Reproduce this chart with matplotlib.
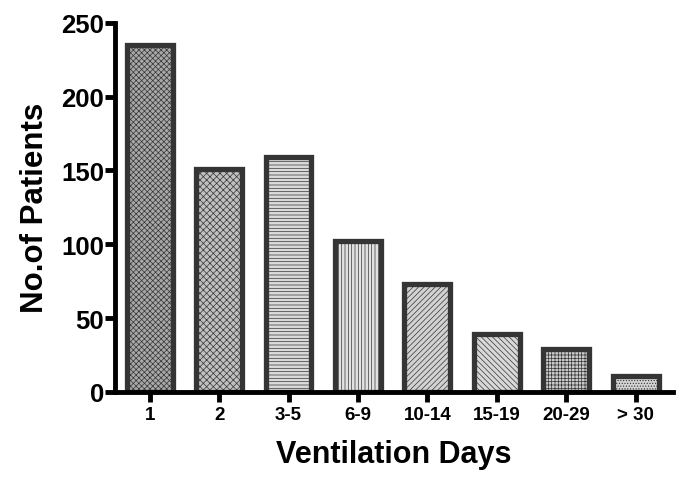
import matplotlib
matplotlib.use("Agg")
import matplotlib.pyplot as plt

categories = ["1", "2", "3-5", "6-9", "10-14", "15-19", "20-29", "> 30"]
patients = [235, 151, 159, 102, 73, 39, 29, 11]
hatches = ["xxxxxx", "xxxxx", "-----", "|||||", "//////", "\\\\\\\\\\\\", "+++++", "......"]
fills = ["#a8a8a8", "#c0c0c0", "#dadada", "#e2e2e2", "#d2d2d2", "#d8d8d8", "#cacaca", "#d2d2d2"]

plt.rcParams['font.family'] = ['Liberation Sans', 'DejaVu Sans']
plt.rcParams['hatch.linewidth'] = 0.5
plt.rcParams['hatch.color'] = '#666666'

fig = plt.figure(figsize=(6.85, 4.85), dpi=100)
ax = fig.add_axes([0.168, 0.19, 0.8146, 0.761])

x = list(range(len(categories)))
for xi, v, h, fc in zip(x, patients, hatches, fills):
    ax.bar(xi, v, width=0.66, facecolor=fc, edgecolor='#353535', linewidth=3.8, hatch=h, zorder=2)

ax.set_xlim(-0.5, 7.54)
ax.set_ylim(0, 250)
ax.set_yticks([0, 50, 100, 150, 200, 250])
ax.set_xticks(x)
ax.set_xticklabels(categories)

for s in ['top', 'right']:
    ax.spines[s].set_visible(False)
for s in ['left', 'bottom']:
    ax.spines[s].set_linewidth(3.5)
    ax.spines[s].set_color('black')
    ax.spines[s].set_capstyle('projecting')

ax.tick_params(axis='y', direction='out', length=7, width=3.5, labelsize=18.5, pad=1)
ax.tick_params(axis='x', direction='out', length=7, width=3.5, labelsize=13.5, pad=3)
for lab in ax.get_yticklabels() + ax.get_xticklabels():
    lab.set_fontweight('bold')

ax.set_xlabel("Ventilation Days", fontsize=22, fontweight='bold', labelpad=12)
ax.set_ylabel("No.of Patients", fontsize=22.5, fontweight='bold', labelpad=8)

fig.savefig("out.png", dpi=100)
